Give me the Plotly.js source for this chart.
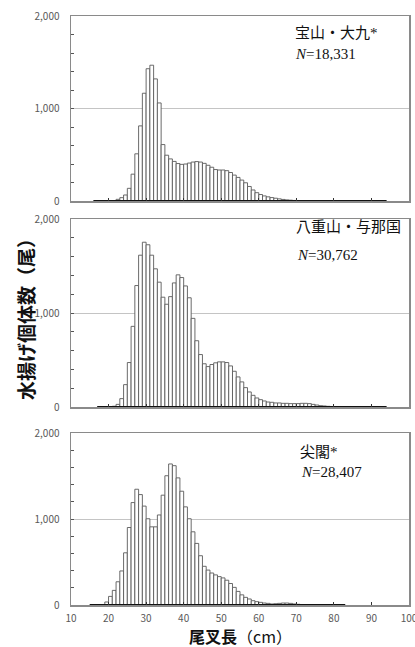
<!DOCTYPE html>
<html>
<head>
<meta charset="utf-8">
<script src="https://cdn.plot.ly/plotly-3.0.1.min.js"></script>
<style>
html,body{margin:0;padding:0;background:#fff;}
#chart{width:415px;height:647px;}
</style>
</head>
<body>
<div id="chart"></div>
<script>
// 尾叉長 (cm) bins, lower edge of each 1 cm class
const binsTakara = [16,17,18,19,20,21,22,23,24,25,26,27,28,29,30,31,32,33,34,35,36,37,38,39,40,41,42,43,44,45,46,47,48,49,50,51,52,53,54,55,56,57,58,59,60,61,62,63,64,65,66,67,68,69,70,71,72,73,74,75,76,77,78,79,80,81,82,83,84,85,86,87,88,89,90,91,92,93];
const countsTakara = [0,0,0,0,0, 5,18,36,65,137, 290,510,812,1165,1430, 1468,1320,1060,610,495, 455,428,405,396,400, 410,421,426,421,407, 386,365,340,335,335, 328,308,280,255,226, 197,157,119,90,70, 55,45,37,30,23, 17,12,9,6,4, 2,1,0,0,0, 0,0,0,0,0, 0,0,0,0,0, 0,0,0,0,0, 0,0,0];

const binsYaeyama = [17,18,19,20,21,22,23,24,25,26,27,28,29,30,31,32,33,34,35,36,37,38,39,40,41,42,43,44,45,46,47,48,49,50,51,52,53,54,55,56,57,58,59,60,61,62,63,64,65,66,67,68,69,70,71,72,73,74,75,76,77,78,79,80,81,82,83,84,85,86,87,88,89,90,91,92,93];
const countsYaeyama = [0,0,0,0,8, 28,89,238,473,858, 1292,1615,1753,1726,1615, 1470,1328,1168,1093,1174, 1320,1406,1377,1288,1162, 943,705,558,460,430, 452,470,480,480,473, 437,380,320,267,206, 160,124,96,78,64, 53,50,43,43,39, 39,36,36,36,39, 39,36,28,21,14, 11,7,4,2,1, 0,0,0,0,0, 0,0,0,0,0, 0,0];

const binsSenkaku = [15,16,17,18,19,20,21,22,23,24,25,26,27,28,29,30,31,32,33,34,35,36,37,38,39,40,41,42,43,44,45,46,47,48,49,50,51,52,53,54,55,56,57,58,59,60,61,62,63,64,65,66,67,68,69,70,71,72,73,74,75,76,77,78,79,80,81,82];
const countsSenkaku = [0,0,0,3,35, 100,170,270,396,607, 901,1191,1346,1284,1150, 1003,909,909,1047,1277, 1503,1640,1620,1478,1323, 1141,1003,851,716,573, 450,406,372,350,330, 315,288,250,205,158, 118,89,70,50,39, 31,23,19,12,15, 19,23,23,19,12, 8,4,2,1,0, 0,0,0,0,0, 0,0,0];

const panelNames = ['宝山・大九*', '八重山・与那国', '尖閣*'];
const panelN = ['18,331', '30,762', '28,407'];
const xTicks = [10,20,30,40,50,60,70,80,90,100];
const yTicks = [0,1000,2000];

// layout geometry (pixels of the 415x647 page)
const L = 71, R = 409, T = 16, B = 605;
const px = x => (x - L) / (R - L);
const py = y => (B - y) / (B - T);

function panelTraces(bins, counts, xa, ya) {
  return [
    {
      type: 'bar', x: bins, y: counts, xaxis: xa, yaxis: ya,
      width: 1, offset: 0,
      marker: {color: '#ffffff', line: {color: '#5a5a5a', width: 0.9}},
      hoverinfo: 'skip'
    },
    {
      type: 'scatter', mode: 'lines', xaxis: xa, yaxis: ya,
      x: [bins[0], bins[bins.length - 1] + 1], y: [0, 0],
      line: {color: '#111111', width: 2.2}, hoverinfo: 'skip'
    }
  ];
}

const data = [].concat(
  panelTraces(binsSenkaku, countsSenkaku, 'x', 'y'),
  panelTraces(binsYaeyama, countsYaeyama, 'x2', 'y2'),
  panelTraces(binsTakara, countsTakara, 'x3', 'y3')
);

const tickFont = {family: 'Noto Sans CJK JP, Liberation Sans, sans-serif', size: 10, color: '#595959'};

function xAxis(anchor, labels) {
  return {
    anchor: anchor, domain: [0, 1], range: [10, 100],
    tickvals: xTicks, ticktext: xTicks.map(String),
    ticks: 'inside', ticklen: 3, tickcolor: '#333', tickwidth: 1,
    showticklabels: labels, tickfont: tickFont, ticklabelstandoff: 3,
    ticklabeloverflow: 'allow',
    showline: true, mirror: true, linecolor: '#8a8a8a', linewidth: 1.5,
    showgrid: false, zeroline: false, fixedrange: true
  };
}
function yAxis(anchor, domain) {
  return {
    anchor: anchor, domain: domain, range: [0, 2000],
    tickvals: yTicks, ticktext: yTicks.map(v => v.toLocaleString('en-US')),
    ticks: 'inside', ticklen: 3, tickcolor: '#555',
    minor: {dtick: 200, ticks: 'inside', ticklen: 3, tickcolor: '#555', showgrid: false},
    tickfont: tickFont, ticklabelstandoff: 8,
    showline: true, mirror: true, linecolor: '#8a8a8a', linewidth: 1.5,
    showgrid: true, gridcolor: '#c4c4c4', gridwidth: 1,
    zeroline: false, fixedrange: true
  };
}

const labelFont = {family: 'Liberation Serif, Noto Sans CJK JP, serif', size: 15, color: '#111'};
function label(text, x, y) {
  return {text: text, xref: 'paper', yref: 'paper', x: px(x), y: py(y),
    xanchor: 'left', yanchor: 'middle', showarrow: false, font: labelFont};
}

const layout = {
  width: 415, height: 647,
  margin: {l: L, r: 415 - R, t: T, b: 647 - B},
  paper_bgcolor: '#fff', plot_bgcolor: '#fff',
  showlegend: false, barmode: 'overlay', bargap: 0,
  xaxis: xAxis('y', true),
  xaxis2: xAxis('y2', false),
  xaxis3: xAxis('y3', false),
  yaxis: yAxis('x', [py(605), py(433)]),
  yaxis2: yAxis('x2', [py(407), py(219)]),
  yaxis3: yAxis('x3', [py(201), py(16)]),
  annotations: [
    label(panelNames[0], 293, 33),
    label('<i>N</i>=' + panelN[0], 293, 54),
    label(panelNames[1], 294, 227),
    label('<i>N</i>=' + panelN[1], 295, 255),
    label(panelNames[2], 298, 452),
    label('<i>N</i>=' + panelN[2], 299, 472),
    {text: '水揚げ個体数（尾）', xref: 'paper', yref: 'paper', x: px(25), y: py(315),
     xanchor: 'center', yanchor: 'middle', textangle: -90, showarrow: false,
     font: {family: 'Noto Sans CJK JP, sans-serif', size: 19, color: '#111', weight: 'bold'}},
    {text: '<b>尾叉長</b>（cm）', xref: 'paper', yref: 'paper', x: px(240), y: py(636),
     xanchor: 'center', yanchor: 'middle', showarrow: false, borderpad: 0,
     font: {family: 'Noto Sans CJK JP, sans-serif', size: 16, color: '#111'}}
  ]
};

Plotly.newPlot('chart', data, layout, {displayModeBar: false, staticPlot: true});
</script>
</body>
</html>
